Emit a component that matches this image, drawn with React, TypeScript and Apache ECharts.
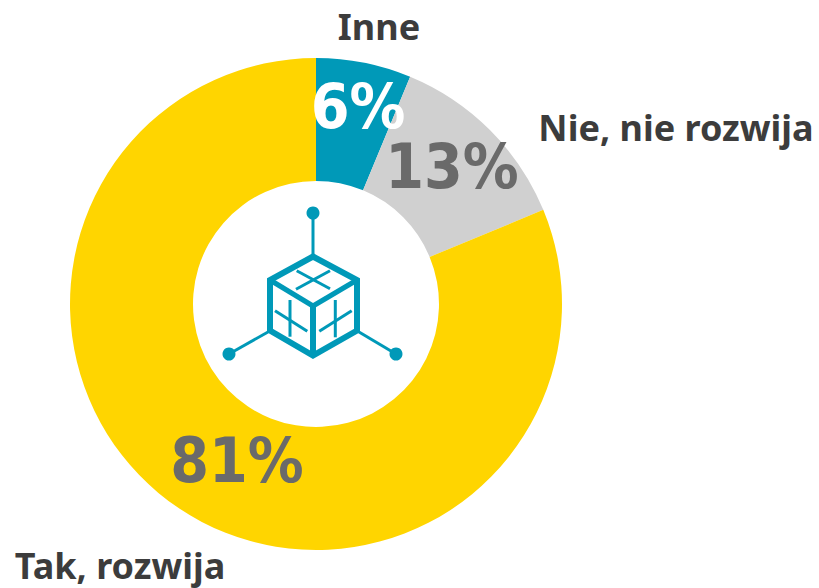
import React, { useEffect, useRef } from "react";
import * as echarts from "echarts";

const categories = ["Inne", "Nie, nie rozwija", "Tak, rozwija"];
const values = [6.25, 12.5, 81.25];
const sliceColors = ["#0099B8", "#D0D0D0", "#FFD500"];
const percentColors = ["#FFFFFF", "#6A6A6A", "#6A6A6A"];
const percentSpots = [
  { x: 358, y: 106 },
  { x: 452, y: 166 },
  { x: 237, y: 460 },
];
const nameSpots = [
  { x: 379, y: 26 },
  { x: 676, y: 127 },
  { x: 120, y: 565 },
];

const ICON = "#0099B8";
const FONT = "'DejaVu Sans Condensed', 'DejaVu Sans', sans-serif";
const NAME_FONT = "'Noto Sans', sans-serif";

const seg = (x1: number, y1: number, x2: number, y2: number, w: number) => ({
  type: "line",
  shape: { x1, y1, x2, y2 },
  style: { stroke: ICON, lineWidth: w },
});
const dot = (cx: number, cy: number, r: number) => ({
  type: "circle",
  shape: { cx, cy, r },
  style: { fill: ICON },
});

export default function App() {
  const ref = useRef<HTMLDivElement>(null);
  useEffect(() => {
    document.body.style.margin = "0";
    const chart = echarts.init(ref.current!, undefined, { renderer: "svg" });
    chart.setOption({
      animation: false,
      backgroundColor: "#FFFFFF",
      graphic: {
        elements: [
          ...categories.map((name, i) => ({
            type: "text",
            x: nameSpots[i].x,
            y: nameSpots[i].y,
            style: {
              text: name,
              fill: "#3C3C3C",
              font: `bold 36px ${NAME_FONT}`,
              align: "center",
              verticalAlign: "middle",
            },
          })),
          dot(313, 213, 6.5),
          dot(229, 354, 6.5),
          dot(396, 354, 6.5),
          seg(313, 213, 313, 254, 3),
          seg(229, 354, 268, 332, 3),
          seg(396, 354, 359, 332, 3),
          {
            type: "polygon",
            shape: {
              points: [
                [313, 256.5],
                [357, 280],
                [357, 330.5],
                [313, 355.5],
                [270, 330.5],
                [270, 280],
              ],
            },
            style: { fill: "none", stroke: ICON, lineWidth: 6 },
          },
          seg(313, 305, 313, 356, 6),
          seg(313, 306, 270, 280, 5),
          seg(313, 306, 357, 280, 5),
          seg(296.7, 270.7, 330, 288.7, 3),
          seg(296, 289.3, 330, 270.7, 3),
          seg(290, 300, 290, 336.7, 3),
          seg(275, 310.7, 307.3, 331.3, 3),
          seg(335.3, 300, 335.3, 337.3, 3),
          seg(319.3, 331.3, 351.7, 310.7, 3),
        ],
      },
      series: [
        {
          type: "pie",
          center: [316, 304],
          radius: [123, 246],
          startAngle: 90,
          clockwise: true,
          silent: true,
          data: categories.map((name, i) => ({
            name,
            value: values[i],
            itemStyle: { color: sliceColors[i] },
            label: { color: percentColors[i] },
          })),
          labelLine: { show: false },
          label: {
            show: true,
            position: "inside",
            formatter: (p: any) => `${Math.round(p.value)}%`,
            fontFamily: FONT,
            fontWeight: "bold",
            fontSize: 62,
          },
          labelLayout: (p: any) => ({
            x: percentSpots[p.dataIndex].x,
            y: percentSpots[p.dataIndex].y,
            align: "center",
            verticalAlign: "middle",
          }),
        },
      ],
    });
    return () => chart.dispose();
  }, []);
  return <div ref={ref} style={{ width: 819, height: 588 }} />;
}
